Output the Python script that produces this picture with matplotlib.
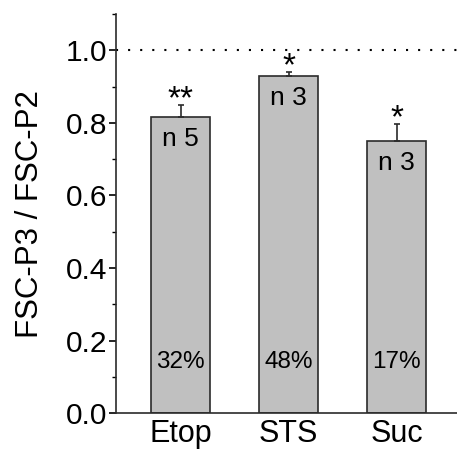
import matplotlib
matplotlib.use("Agg")
import matplotlib.pyplot as plt
from matplotlib.ticker import MultipleLocator

plt.rcParams["font.family"] = ["Liberation Sans", "DejaVu Sans"]

categories = ["Etop", "STS", "Suc"]
ratios = [0.815, 0.928, 0.749]
errors = [0.033, 0.011, 0.047]
n_labels = ["n 5", "n 3", "n 3"]
pct_labels = ["32%", "48%", "17%"]
stars = ["**", "*", "*"]

BAR = "#c0c0c0"
EDGE = "#2b2b2b"

fig = plt.figure(figsize=(4.57, 4.53), dpi=100)
ax = fig.add_axes([0.254, 0.088, 0.746, 0.881])

x = list(range(len(categories)))
ax.bar(x, ratios, width=0.55, color=BAR, edgecolor=EDGE, linewidth=1.2, zorder=2)
ax.errorbar(x, ratios, yerr=[[0] * len(errors), errors], fmt="none",
            ecolor=EDGE, elinewidth=1.2, capsize=2.5, capthick=1.2, zorder=3)
ax.axhline(1.0, color="black", lw=1.5, linestyle=(0, (1, 4.8)), zorder=1)

for xi, v, e, n, p, s in zip(x, ratios, errors, n_labels, pct_labels, stars):
    ax.annotate(n, (xi, v), xytext=(0, -7), textcoords="offset points",
                ha="center", va="top", fontsize=19)
    ax.text(xi, 0.14, p, ha="center", va="center", fontsize=17.5)
    ax.annotate(s, (xi, v + e), xytext=(0, -7), textcoords="offset points",
                ha="center", va="bottom", fontsize=24)

ax.set_xlim(-0.6, 2.56)
ax.set_ylim(0, 1.1)
ax.set_xticks(x)
ax.set_xticklabels(categories)
ax.yaxis.set_major_locator(MultipleLocator(0.2))
ax.yaxis.set_minor_locator(MultipleLocator(0.1))
ax.yaxis.set_major_formatter(plt.FormatStrFormatter("%.1f"))
ax.tick_params(axis="y", which="major", length=5, width=1.2, labelsize=21.5, pad=1)
ax.tick_params(axis="y", which="minor", length=3, width=1)
ax.tick_params(axis="x", length=0, labelsize=22, pad=4)
ax.spines["top"].set_visible(False)
ax.spines["right"].set_visible(False)
for sp in ("left", "bottom"):
    ax.spines[sp].set_linewidth(1.2)
    ax.spines[sp].set_color(EDGE)
ax.set_ylabel("FSC-P3 / FSC-P2", fontsize=22.5, labelpad=15)

fig.savefig("out.png", dpi=100, facecolor="white")
